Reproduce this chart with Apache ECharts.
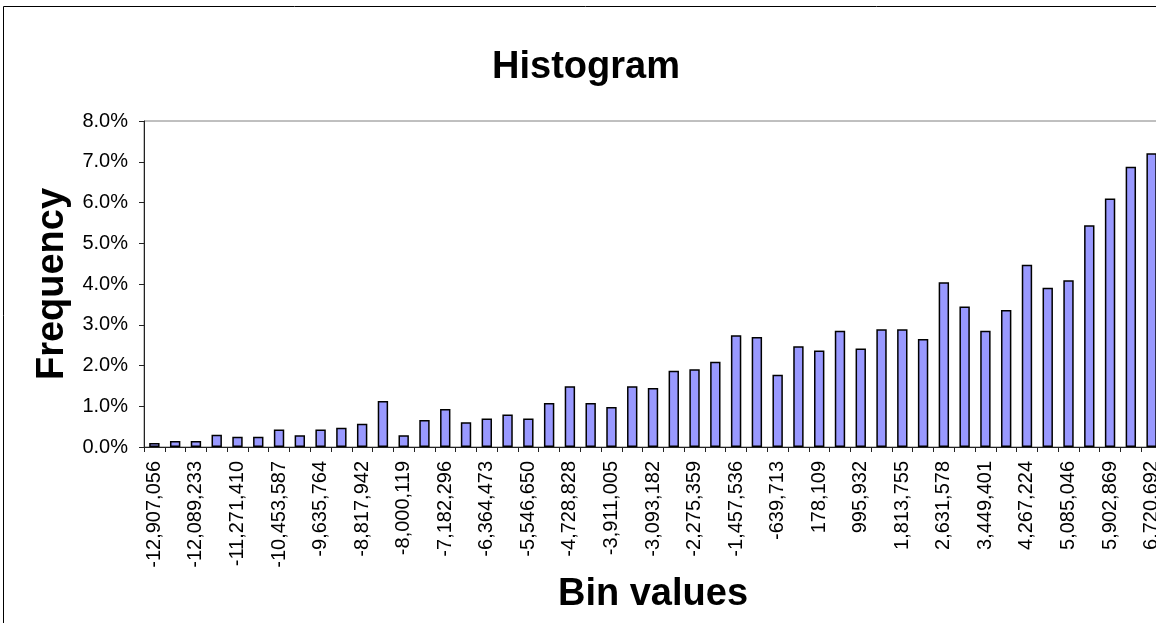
<!DOCTYPE html>
<html>
<head>
<meta charset="utf-8">
<script src="https://cdn.jsdelivr.net/npm/echarts@6/dist/echarts.min.js"></script>
<style>
  html, body { margin: 0; padding: 0; background: #fff; overflow: hidden; }
  #chart { position: absolute; left: 0; top: 0; width: 1172px; height: 623px; }
</style>
</head>
<body>
<div id="chart"></div>
<script>
// Bin lower edges (category axis)
const binValues = [
  '-12,907,056', '-12,498,145', '-12,089,233', '-11,680,322', '-11,271,410',
  '-10,862,499', '-10,453,587', '-10,044,676', '-9,635,764', '-9,226,853',
  '-8,817,942', '-8,409,031', '-8,000,119', '-7,591,208', '-7,182,296',
  '-6,773,385', '-6,364,473', '-5,955,562', '-5,546,650', '-5,137,739',
  '-4,728,828', '-4,319,917', '-3,911,005', '-3,502,094', '-3,093,182',
  '-2,684,271', '-2,275,359', '-1,866,448', '-1,457,536', '-1,048,625',
  '-639,713', '-230,802', '178,109', '587,021', '995,932',
  '1,404,844', '1,813,755', '2,222,667', '2,631,578', '3,040,490',
  '3,449,401', '3,858,313', '4,267,224', '4,676,135', '5,085,046',
  '5,493,958', '5,902,869', '6,311,781', '6,720,692'
];

// Relative frequency per bin, in percent
const frequency = [
  0.10, 0.15, 0.15, 0.30, 0.25, 0.25, 0.43, 0.29, 0.43, 0.47,
  0.57, 1.13, 0.29, 0.66, 0.93, 0.61, 0.70, 0.80, 0.70, 1.08,
  1.49, 1.08, 0.98, 1.49, 1.45, 1.87, 1.91, 2.09, 2.74, 2.70,
  1.77, 2.47, 2.37, 2.85, 2.42, 2.89, 2.89, 2.65, 4.04, 3.45,
  2.85, 3.36, 4.47, 3.91, 4.09, 5.44, 6.10, 6.88, 7.21
];

const FONT = '"Liberation Sans", Arial, Helvetica, sans-serif';

const chart = echarts.init(document.getElementById('chart'), null, { renderer: 'canvas' });

chart.setOption({
  backgroundColor: '#ffffff',
  animation: false,
  title: {
    text: 'Histogram',
    left: 'center',
    top: 44,
    textStyle: { fontFamily: FONT, fontSize: 38, fontWeight: 'bold', color: '#000' }
  },
  graphic: [{
    type: 'rect',
    shape: { x: 3.5, y: 6.5, width: 1164, height: 640 },
    style: { fill: 'none', stroke: '#000', lineWidth: 1 },
    silent: true,
    z: -1
  }],
  grid: {
    left: 144,
    top: 121,
    width: 1018,
    height: 326,
    show: true,
    borderColor: '#808080',
    borderWidth: 1,
    backgroundColor: '#fff'
  },
  xAxis: {
    type: 'category',
    data: binValues,
    boundaryGap: true,
    name: 'Bin values',
    nameLocation: 'middle',
    nameGap: 126,
    nameTextStyle: { fontFamily: FONT, fontSize: 38, fontWeight: 'bold', color: '#000' },
    axisLine: { lineStyle: { color: '#222', width: 1 } },
    axisTick: { show: true, interval: 0, length: 5, lineStyle: { color: '#222' } },
    axisLabel: {
      interval: 1,
      rotate: 90,
      margin: 14,
      fontFamily: FONT,
      fontSize: 20,
      color: '#000'
    },
    splitLine: { show: false }
  },
  yAxis: {
    type: 'value',
    min: 0,
    max: 8,
    interval: 1,
    name: 'Frequency',
    nameLocation: 'middle',
    nameRotate: 90,
    nameGap: 65,
    nameTextStyle: { fontFamily: FONT, fontSize: 38, fontWeight: 'bold', color: '#000' },
    axisLine: { show: true, lineStyle: { color: '#222', width: 1 } },
    axisTick: { show: true, length: 5, lineStyle: { color: '#222' } },
    axisLabel: {
      margin: 16,
      fontFamily: FONT,
      fontSize: 20,
      color: '#000',
      formatter: v => v.toFixed(1) + '%'
    },
    splitLine: { show: false }
  },
  series: [{
    type: 'bar',
    data: frequency,
    barWidth: '50%',
    itemStyle: { color: '#9999FF', borderColor: '#000', borderWidth: 1.5 }
  }]
});
</script>
</body>
</html>
